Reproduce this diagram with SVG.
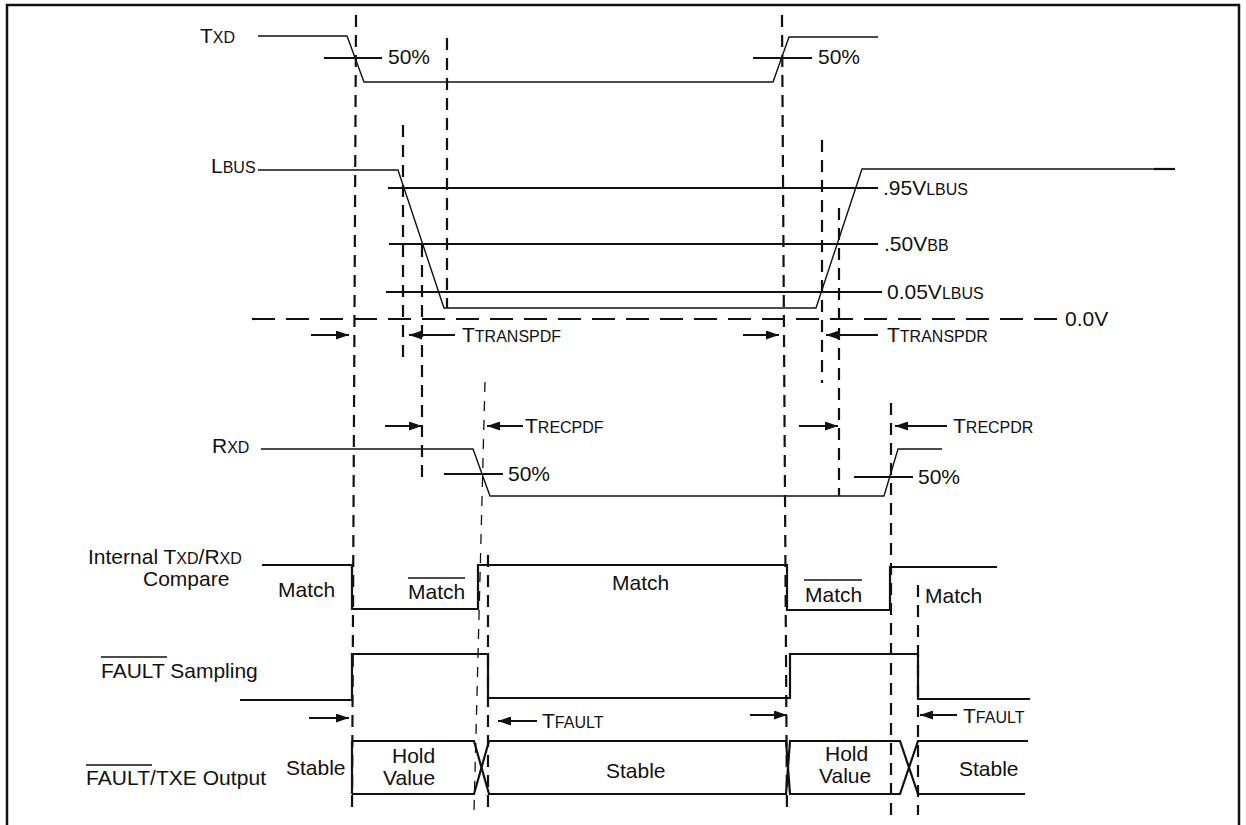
<svg xmlns="http://www.w3.org/2000/svg" width="1246" height="825" viewBox="0 0 1246 825">
<style>
text{font-family:"Liberation Sans",Arial,Helvetica,sans-serif;font-size:21px;fill:#111}
.sc{font-size:16px}
.sig{fill:none;stroke:#111;stroke-width:1.4;stroke-linejoin:miter}
.wav{fill:none;stroke:#111;stroke-width:2.2}
.lvl{fill:none;stroke:#111;stroke-width:2.2}
.dash{fill:none;stroke:#111;stroke-width:2.2;stroke-dasharray:12 8}
.dashh{fill:none;stroke:#111;stroke-width:2.2;stroke-dasharray:23 11}
.dthin{fill:none;stroke:#111;stroke-width:1.3;stroke-dasharray:10 9}
.arr{fill:none;stroke:#111;stroke-width:2.2;marker-end:url(#ah)}
.ol{stroke:#111;stroke-width:1.6}
</style>
<defs>
<marker id="ah" viewBox="0 0 13 9" refX="13" refY="4.5" markerWidth="13" markerHeight="9" markerUnits="userSpaceOnUse" orient="auto">
<path d="M0,0 L13,4.5 L0,9 Z" fill="#111"/>
</marker>
</defs>
<rect width="1246" height="825" fill="#fff"/>
<path d="M7,830 V5 H1239 V830" fill="none" stroke="#111" stroke-width="2.5"/>

<g id="connectors">
<line class="dash" x1="356" y1="15" x2="352" y2="812"/>
<line class="dash" x1="447" y1="38" x2="447" y2="308"/>
<line class="dash" x1="403" y1="125" x2="403" y2="365"/>
<line class="dash" x1="422" y1="245" x2="422" y2="478"/>
<line class="dthin" x1="485" y1="382" x2="474" y2="812"/>
<line class="dash" x1="488" y1="555" x2="488" y2="815"/>
<line class="dash" x1="782" y1="15" x2="787" y2="815"/>
<line class="dash" x1="822" y1="140" x2="822" y2="383"/>
<line class="dash" x1="839" y1="208" x2="839" y2="496"/>
<line class="dash" x1="891" y1="403" x2="891" y2="815"/>
<line class="dash" x1="918" y1="585" x2="918" y2="815"/>
<line class="dashh" x1="252" y1="319" x2="1060" y2="319"/>
<line class="arr" x1="311" y1="335" x2="349" y2="335"/>
<line class="arr" x1="455" y1="335" x2="409" y2="335"/>
<line class="arr" x1="743" y1="335" x2="779" y2="335"/>
<line class="arr" x1="878" y1="335" x2="826" y2="335"/>
<line class="arr" x1="385" y1="426" x2="422" y2="426"/>
<line class="arr" x1="523" y1="426" x2="487" y2="426"/>
<line class="arr" x1="799" y1="426" x2="838" y2="426"/>
<line class="arr" x1="947" y1="426" x2="895" y2="426"/>
<line class="arr" x1="309" y1="718" x2="349" y2="718"/>
<line class="arr" x1="537" y1="721" x2="498" y2="721"/>
<line class="arr" x1="750" y1="715" x2="787" y2="715"/>
<line class="arr" x1="957" y1="715" x2="920" y2="715"/>
</g>

<g id="txd">
<text x="200" y="43">T<tspan class="sc">XD</tspan></text>
<path class="sig" d="M258,36 H347 L364,82 H773 L789,37 H878"/>
<line class="lvl" x1="324" y1="58" x2="382" y2="58"/>
<text x="388" y="64">50%</text>
<line class="lvl" x1="753" y1="58" x2="812" y2="58"/>
<text x="818" y="64">50%</text>
</g>

<g id="lbus">
<text x="211" y="173">L<tspan class="sc">BUS</tspan></text>
<path class="sig" d="M258,170 H398 L444,308 H816 L862,169 H1155"/>
<line x1="1154" y1="169" x2="1175" y2="169" stroke="#111" stroke-width="2.2"/>
<line class="lvl" x1="388" y1="188" x2="878" y2="188"/>
<text x="883" y="195">.95V<tspan class="sc">LBUS</tspan></text>
<line class="lvl" x1="389" y1="244" x2="878" y2="244"/>
<text x="884" y="251">.50V<tspan class="sc">BB</tspan></text>
<line class="lvl" x1="386" y1="292" x2="882" y2="292"/>
<text x="887" y="299">0.05V<tspan class="sc">LBUS</tspan></text>
<text x="1065" y="326">0.0V</text>
<text x="462" y="342">T<tspan class="sc">TRANSPDF</tspan></text>
<text x="887" y="342">T<tspan class="sc">TRANSPDR</tspan></text>
</g>

<g id="rxd">
<text x="212" y="453">R<tspan class="sc">XD</tspan></text>
<path class="sig" d="M261,449 H473 L490,496 H884 L898,449 H942"/>
<line class="lvl" x1="444" y1="474" x2="503" y2="474"/>
<text x="508" y="481">50%</text>
<line class="lvl" x1="854" y1="477" x2="913" y2="477"/>
<text x="918" y="484">50%</text>
<text x="525" y="433">T<tspan class="sc">RECPDF</tspan></text>
<text x="953" y="433">T<tspan class="sc">RECPDR</tspan></text>
</g>

<g id="compare">
<text x="88" y="564">Internal T<tspan class="sc">XD</tspan>/R<tspan class="sc">XD</tspan></text>
<text x="143" y="586">Compare</text>
<path class="wav" d="M262,565 H352 V609 H478 V565 H787 V610 H890 V567 H997"/>
<text x="278" y="597">Match</text>
<text x="408" y="599">Match</text>
<line class="ol" x1="408" y1="578" x2="465" y2="578"/>
<text x="612" y="590">Match</text>
<text x="805" y="602">Match</text>
<line class="ol" x1="804" y1="580" x2="862" y2="580"/>
<text x="925" y="603">Match</text>
</g>

<g id="fault-sampling">
<text x="101" y="678">FAULT Sampling</text>
<line class="ol" x1="101" y1="657" x2="167" y2="657"/>
<path class="wav" d="M240,700 H352 V654 H488 V698 H790 V654 H918 V699 H1030"/>
<text x="542" y="728">T<tspan class="sc">FAULT</tspan></text>
<text x="963" y="723">T<tspan class="sc">FAULT</tspan></text>
</g>

<g id="fault-output">
<text x="86" y="785" textLength="180" lengthAdjust="spacing">FAULT/TXE Output</text>
<line class="ol" x1="86" y1="765" x2="152" y2="765"/>
<text x="286" y="775">Stable</text>
<path class="wav" d="M352,741 V794 M352,741 H474 L489,794 H786 L790,741 H900 L918,794 H1025"/>
<path class="wav" d="M352,794 H474 L489,741 H786 L790,794 H900 L918,741 H1028"/>
<text x="392" y="763">Hold</text>
<text x="383" y="785">Value</text>
<text x="606" y="778">Stable</text>
<text x="825" y="761">Hold</text>
<text x="819" y="783">Value</text>
<text x="959" y="776">Stable</text>
</g>
</svg>
